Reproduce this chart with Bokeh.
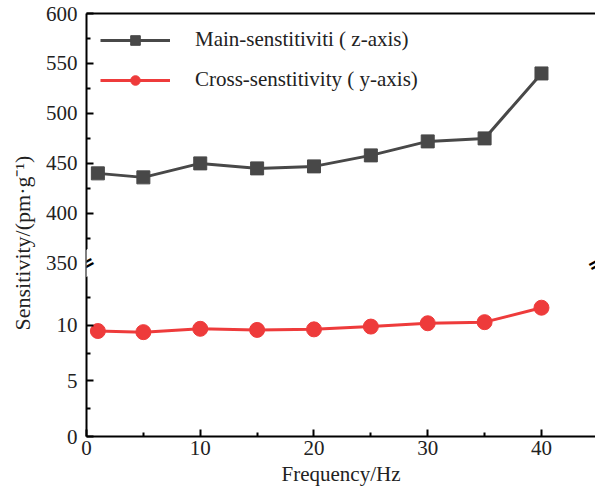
from bokeh.plotting import figure
from bokeh.models import (Range1d, LinearAxis, FixedTicker, CustomJSTickFormatter,
                          CustomJSTransform, Legend, LegendItem, Label, Title, ColumnDataSource)
from bokeh.transform import transform
from bokeh.embed import file_html
from bokeh.resources import INLINE

# ---- data ----
freq = [1, 5, 10, 15, 20, 25, 30, 35, 40]
main_sens = [440, 436, 450, 445, 447, 458, 472, 475, 540]
cross_sens = [9.5, 9.4, 9.7, 9.6, 9.65, 9.9, 10.2, 10.3, 11.6]
main_label = "Main-senstitiviti ( z-axis)"
cross_label = "Cross-senstitivity ( y-axis)"
y_title = "Sensitivity/(pm\u00b7g\u207b\u00b9)"
x_title = "Frequency/Hz"
x_ticks = [0, 10, 20, 30, 40]
x_minor = [5, 15, 25, 35]
lower_ticks = [0, 5, 10]
lower_minor = [2.5, 7.5, 12.5]
upper_ticks = [350, 400, 450, 500, 550, 600]
upper_minor = [375, 425, 475, 525, 575]

# ---- broken axis settings ----
BREAK_LOW = 15.6     # top of the lower segment
BREAK_HIGH = 350     # bottom of the upper segment
UPPER_TOP = 600
SCALE = 0.09         # compression of the upper segment
X_END = 44.75


def disp(v):
    return v if v < BREAK_HIGH else BREAK_LOW + (v - BREAK_HIGH) * SCALE


brk = CustomJSTransform(args=dict(lo=BREAK_LOW, hi=BREAK_HIGH, s=SCALE), v_func="""
    const out = new Float64Array(xs.length);
    for (let i = 0; i < xs.length; i++) {
        const v = xs[i];
        out[i] = v >= hi ? lo + (v - hi) * s : v;
    }
    return out;
""")

GRAY = "#484848"
RED = "#EE3B3B"
FONT = "Liberation Serif"

src = ColumnDataSource(dict(freq=freq, main=main_sens, cross=cross_sens))

p = figure(width=595, height=490, x_range=Range1d(0, X_END),
           y_range=Range1d(0, disp(UPPER_TOP)),
           output_backend="svg", toolbar_location=None,
           min_border_left=86, min_border_right=0, min_border_top=13, min_border_bottom=54)
p.outline_line_color = None
p.xgrid.grid_line_color = None
p.ygrid.grid_line_color = None

l1 = p.line(x="freq", y=transform("main", brk), source=src, line_color=GRAY, line_width=3)
s1 = p.scatter(x="freq", y=transform("main", brk), source=src, marker="square", size=13,
               fill_color=GRAY, line_color=GRAY)
l2 = p.line(x="freq", y="cross", source=src, line_color=RED, line_width=3)
s2 = p.scatter(x="freq", y="cross", source=src, marker="circle", size=15,
               fill_color=RED, line_color=RED)

legend = Legend(items=[LegendItem(label=main_label, renderers=[l1, s1]),
                       LegendItem(label=cross_label, renderers=[l2, s2])],
                location="top_left")
legend.border_line_color = None
legend.background_fill_alpha = 0
legend.margin = 14
legend.padding = 0
legend.glyph_width = 70
legend.glyph_height = 24
legend.label_height = 24
legend.spacing = 15
legend.label_standoff = 25
legend.label_text_font = FONT
legend.label_text_font_size = "21px"
legend.label_text_color = "#222222"
p.add_layout(legend)

# axes
for ax in (p.xaxis[0], p.yaxis[0]):
    ax.axis_line_width = 2
    ax.major_tick_line_width = 2
    ax.minor_tick_line_width = 2
    ax.major_tick_in = 7
    ax.major_tick_out = 0
    ax.minor_tick_in = 4
    ax.minor_tick_out = 0
    ax.major_label_text_font = FONT
    ax.major_label_text_font_size = "21px"
    ax.major_label_text_color = "#222222"
    ax.axis_label_text_font = FONT
    ax.axis_label_text_font_size = "21px"
    ax.axis_label_text_font_style = "normal"
    ax.axis_label_text_color = "#222222"

p.xaxis.ticker = FixedTicker(ticks=x_ticks, minor_ticks=x_minor)
p.xaxis.axis_label = x_title
p.xaxis.major_label_standoff = 4
p.xaxis.axis_label_standoff = 4

p.yaxis.ticker = FixedTicker(ticks=[disp(v) for v in lower_ticks + upper_ticks],
                             minor_ticks=[disp(v) for v in lower_minor + upper_minor])
p.yaxis.formatter = CustomJSTickFormatter(args=dict(lo=BREAK_LOW, hi=BREAK_HIGH, s=SCALE), code="""
    if (tick < lo - 1e-6) return tick.toFixed(0);
    return (hi + (tick - lo) / s).toFixed(0);
""")
p.yaxis.major_label_standoff = 9

# y title: a side title, placed a little below the frame centre as in the original
ytitle = Title(text=y_title, align="left", offset=106, standoff=15,
               text_font=FONT, text_font_size="22px", text_font_style="normal",
               text_color="#222222")
p.add_layout(ytitle, "left")

top = LinearAxis(ticker=FixedTicker(ticks=[]), axis_line_width=2,
                 major_label_text_font_size="0px", major_tick_out=0, minor_tick_out=0,
                 major_label_standoff=0)
p.add_layout(top, "above")

# break marks
for xb in (0, X_END):
    p.add_layout(Label(x=xb, y=BREAK_LOW, text="=", text_align="center", text_baseline="middle",
                       angle=0.5, text_font="DejaVu Sans", text_font_size="20px",
                       text_font_style="bold", text_color="black",
                       background_fill_color="white"))

open("out.html", "w").write(file_html(p, INLINE))
